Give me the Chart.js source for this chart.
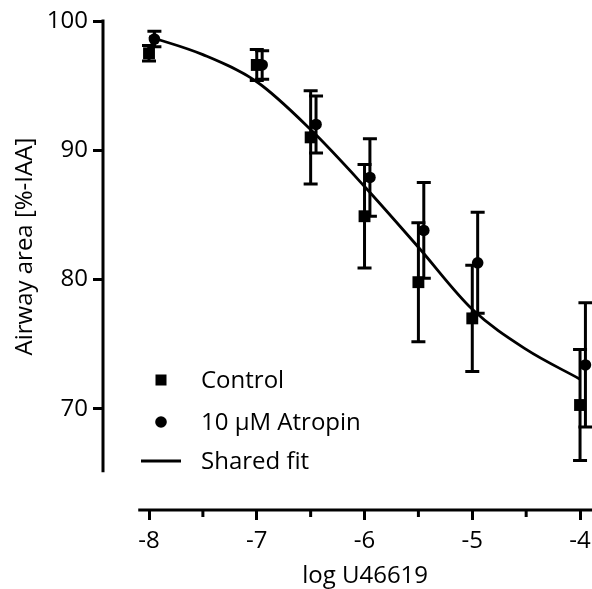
<!DOCTYPE html>
<html>
<head>
<meta charset="utf-8">
<script src="https://cdn.jsdelivr.net/npm/chart.js@4/dist/chart.umd.min.js"></script>
<style>
  html, body { margin: 0; padding: 0; background: #fff; }
  #wrap { width: 592px; height: 589px; position: relative; }
</style>
</head>
<body>
<div id="wrap"><canvas id="chart"></canvas></div>
<script>
// values
const controlX = [-8, -7, -6.5, -6, -5.5, -5, -4];
const controlY = [97.5, 96.6, 91.0, 84.9, 79.8, 77.0, 70.3];
const controlErr = [0.6, 1.2, 3.6, 4.0, 4.6, 4.1, 4.3];

const atropinX = [-7.95, -6.95, -6.45, -5.95, -5.45, -4.95, -3.95];
const atropinY = [98.6, 96.6, 92.0, 87.9, 83.8, 81.3, 73.4];
const atropinErr = [0.6, 1.1, 2.2, 3.0, 3.7, 3.9, 4.8];

const fitX = [-8, -7.5, -7, -6.5, -6, -5.5, -5, -4.5, -4];
const fitY = [98.8, 97.4, 95.3, 91.6, 87.2, 82.5, 77.7, 74.6, 72.3];

const xTicks = [-8, -7, -6, -5, -4];
const xMinorTicks = [-7.5, -6.5, -5.5, -4.5];
const yTicks = [70, 80, 90, 100];

const xTitle = "log U46619";
const yTitle = "Airway area [%-IAA]";

const FONT = "'Open Sans', sans-serif";

function toPoints(xs, ys) {
  return xs.map((x, i) => ({ x: x, y: ys[i] }));
}

const errorBars = {
  id: "errorBars",
  beforeDatasetsDraw(chart) {
    const ctx = chart.ctx;
    const xs = chart.scales.x, ys = chart.scales.y;
    ctx.save();
    ctx.strokeStyle = "#000";
    ctx.lineWidth = 3;
    chart.data.datasets.forEach((ds) => {
      if (!ds.err) return;
      ds.data.forEach((p, i) => {
        const px = xs.getPixelForValue(p.x);
        const top = ys.getPixelForValue(p.y + ds.err[i]);
        const bot = ys.getPixelForValue(p.y - ds.err[i]);
        ctx.beginPath();
        ctx.moveTo(px, top); ctx.lineTo(px, bot);
        ctx.moveTo(px - 7, top); ctx.lineTo(px + 7, top);
        ctx.moveTo(px - 7, bot); ctx.lineTo(px + 7, bot);
        ctx.stroke();
      });
    });
    ctx.restore();
  },
};

const axesAndText = {
  id: "axesAndText",
  afterDraw(chart) {
    const ctx = chart.ctx;
    const xs = chart.scales.x, ys = chart.scales.y;
    const area = chart.chartArea;
    ctx.save();
    ctx.strokeStyle = "#000";
    ctx.lineWidth = 3;
    // y axis line
    ctx.beginPath();
    ctx.moveTo(area.left, ys.getPixelForValue(100) - 1.5);
    ctx.lineTo(area.left, ys.getPixelForValue(65.1));
    ctx.stroke();
    // x axis line
    ctx.beginPath();
    ctx.moveTo(xs.getPixelForValue(-8.1), area.bottom);
    ctx.lineTo(area.right, area.bottom);
    ctx.stroke();
    // minor ticks
    xMinorTicks.forEach((v) => {
      const px = xs.getPixelForValue(v);
      ctx.beginPath();
      ctx.moveTo(px, area.bottom);
      ctx.lineTo(px, area.bottom + 7);
      ctx.stroke();
    });

    // axis titles
    ctx.fillStyle = "#000";
    ctx.font = "24px " + FONT;
    ctx.textAlign = "center";
    ctx.textBaseline = "middle";
    ctx.fillText(xTitle, (xs.getPixelForValue(-8.1) + area.right) / 2, 576);
    ctx.save();
    ctx.translate(25, (ys.getPixelForValue(100) + ys.getPixelForValue(65.1)) / 2);
    ctx.rotate(-Math.PI / 2);
    ctx.fillText(yTitle, 0, 0);
    ctx.restore();

    // legend
    const lx = 161, rows = [380, 422, 461];
    ctx.textAlign = "left";
    ctx.font = "24px " + FONT;
    ctx.fillRect(lx - 5.5, rows[0] - 5.5, 11, 11);
    ctx.beginPath();
    ctx.arc(lx, rows[1], 5.8, 0, Math.PI * 2);
    ctx.fill();
    ctx.beginPath();
    ctx.moveTo(lx - 20, rows[2]);
    ctx.lineTo(lx + 20, rows[2]);
    ctx.stroke();
    chart.data.datasets.forEach((ds, i) => {
      ctx.fillText(ds.label, 201, rows[i] + 1);
    });
    ctx.restore();
  },
};

const config = {
  type: "scatter",
  data: {
    datasets: [
      {
        label: "Control",
        data: toPoints(controlX, controlY),
        err: controlErr,
        pointStyle: "rect",
        pointRadius: 8.4,
        backgroundColor: "#000",
        borderColor: "#000",
        borderWidth: 0,
      },
      {
        label: "10 µM Atropin",
        data: toPoints(atropinX, atropinY),
        err: atropinErr,
        pointStyle: "circle",
        pointRadius: 5.8,
        backgroundColor: "#000",
        borderColor: "#000",
        borderWidth: 0,
      },
      {
        label: "Shared fit",
        type: "line",
        data: toPoints(fitX, fitY),
        borderColor: "#000",
        borderWidth: 2.8,
        pointRadius: 0,
        fill: false,
        cubicInterpolationMode: "monotone",
      },
    ],
  },
  options: {
    responsive: true,
    maintainAspectRatio: false,
    animation: false,
    events: [],
    layout: { autoPadding: false, padding: { top: 21, right: 0, left: 0, bottom: 0 } },
    plugins: {
      legend: { display: false },
      tooltip: { enabled: false },
    },
    scales: {
      x: {
        type: "linear",
        min: -8.427,
        max: -3.889,
        afterBuildTicks: (s) => { s.ticks = xTicks.map((v) => ({ value: v })); },
        afterFit: (s) => { s.height = 79; s.paddingLeft = 0; s.paddingRight = 0; },
        border: { display: false },
        grid: { drawOnChartArea: false, drawTicks: true, tickLength: 10, tickWidth: 3, tickColor: "#000" },
        ticks: { color: "#000", font: { family: FONT, size: 24 }, padding: 7, maxRotation: 0 },
      },
      y: {
        type: "linear",
        min: 62.18,
        max: 100,
        afterBuildTicks: (s) => { s.ticks = yTicks.map((v) => ({ value: v })); },
        afterFit: (s) => { s.width = 103; },
        border: { display: false },
        grid: { drawOnChartArea: false, drawTicks: true, tickLength: 10, tickWidth: 3, tickColor: "#000" },
        ticks: { color: "#000", font: { family: FONT, size: 24 }, padding: 5 },
      },
    },
  },
  plugins: [errorBars, axesAndText],
};

new Chart(document.getElementById("chart"), config);
</script>
</body>
</html>
